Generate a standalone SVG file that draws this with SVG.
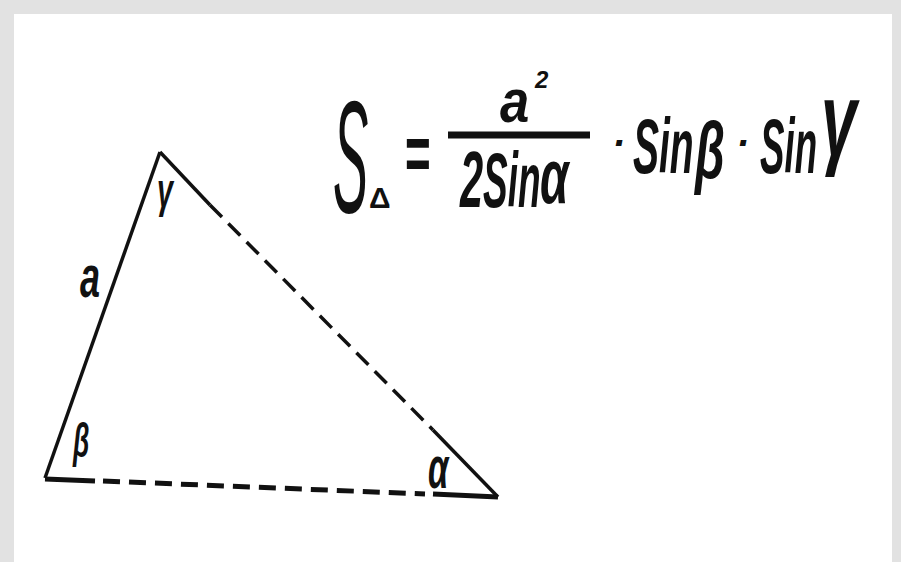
<svg xmlns="http://www.w3.org/2000/svg" width="901" height="562" viewBox="0 0 901 562">
<style>
.f{font-family:"Liberation Sans",Arial,sans-serif;font-weight:bold;font-style:italic;fill:#111}
.s{stroke:#111;stroke-width:3.5;fill:none;stroke-linecap:butt}
.d{stroke-dasharray:17 9}
</style>
<rect x="0" y="0" width="901" height="562" fill="#e2e2e2"/>
<rect x="14" y="14" width="878" height="548" fill="#ffffff"/>
<g id="triangle">
<line class="s" x1="45" y1="478" x2="160" y2="152"/>
<line class="s" x1="160" y1="152" x2="210" y2="205"/>
<line class="s d" x1="210" y1="205" x2="433" y2="430"/>
<line class="s" x1="433" y1="430" x2="498" y2="497"/>
<line class="s" x1="45" y1="479" x2="95" y2="481" style="stroke-width:5"/>
<line class="s d" x1="103" y1="481" x2="425" y2="494" style="stroke-width:5"/>
<line class="s" x1="433" y1="494" x2="498" y2="497" style="stroke-width:5"/>
</g>
<g id="labels">
<text class="f" font-size="48" transform="translate(157,207) scale(0.6,1)">γ</text>
<text class="f" font-size="60" transform="translate(80,297) scale(0.6,1)">a</text>
<text class="f" font-size="48" transform="translate(73,457) scale(0.55,1)">β</text>
<text class="f" font-size="60" transform="translate(428,488) scale(0.55,1)">α</text>
</g>
<g id="formula">
<text class="f" font-size="160" style="font-weight:normal" transform="translate(333,212) scale(0.33,1)">S</text>
<text class="f" font-size="30" style="font-style:normal" x="369" y="208">Δ</text>
<text class="f" font-size="80" style="font-style:normal" transform="translate(405,180) scale(0.55,1)">=</text>
<text class="f" font-size="62" transform="translate(500,122) scale(0.85,1)">a</text>
<text class="f" font-size="24" x="535" y="88">2</text>
<line x1="448" y1="135" x2="590" y2="135" stroke="#111" stroke-width="7"/>
<text class="f" font-size="80" transform="translate(460,207) scale(0.52,1)">2</text>
<text class="f" font-size="77" transform="translate(483,207) scale(0.48,1)">Sin</text>
<text class="f" font-size="77" transform="translate(540,203) scale(0.6,1)">α</text>
<text class="f" font-size="40" x="612" y="157">·</text>
<text class="f" font-size="78" transform="translate(633,173) scale(0.5,1)">Sin</text>
<text class="f" font-size="80" transform="translate(695,178) scale(0.6,1)">β</text>
<text class="f" font-size="40" x="736" y="157">·</text>
<text class="f" font-size="78" transform="translate(760,173) scale(0.47,1)">Sin</text>
<text class="f" font-size="104" transform="translate(821,155) scale(0.62,1)">γ</text>
</g>
</svg>
